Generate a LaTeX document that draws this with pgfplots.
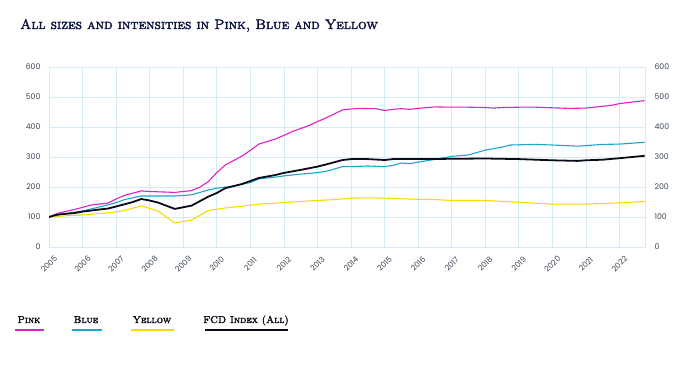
\documentclass[border=0pt]{standalone}
\usepackage{fontspec}
\setsansfont{Poppins}
\newfontface\scfont{lmromancaps10-regular.otf}[FakeBold=2.5]
\usepackage{pgfplots}
\pgfplotsset{compat=1.18}
\definecolor{gridc}{HTML}{D4ECF5}
\definecolor{tickc}{HTML}{3A4756}
\definecolor{pinkc}{HTML}{E020C0}
\definecolor{bluec}{HTML}{1AA7C9}
\definecolor{yellowc}{HTML}{F5DB00}
\definecolor{blackc}{HTML}{0A0A18}
\definecolor{titlec}{HTML}{0E1440}
\begin{document}
\begin{tikzpicture}
\useasboundingbox[fill=white] (0,0) rectangle (691bp,375bp);
\pgfplotsset{
  common/.style={
    at={(49bp,128bp)}, anchor=south west, scale only axis,
    width=596bp, height=180bp,
    xmin=2005, xmax=2022.76, ymin=0, ymax=600,
    ytick={0,100,...,600},
    /pgf/number format/1000 sep={},
    /pgf/number format/assume math mode=true,
    major tick length=0pt,
    tick label style={font=\sffamily\fontsize{7.8}{9}\selectfont, text=tickc},
  }
}
\begin{axis}[common,
  xtick={2005,...,2022},
  grid=major, grid style={gridc, line width=0.6pt},
  axis line style={gridc, line width=0.6pt},
  yticklabel style={xshift=-5bp},
  xticklabel style={yshift=-17bp, rotate=45, anchor=center},
]
\addplot[pinkc, line width=1.1pt] coordinates {
(2005,100)(2005.25,112)(2005.75,125)(2006,132)(2006.25,140)(2006.75,146)(2007,160)(2007.25,172)(2007.75,187)(2008,185)(2008.5,183)(2008.75,182)(2009,185)(2009.25,188)(2009.5,200)(2009.75,218)(2010,248)(2010.25,273)(2010.75,303)(2011,322)(2011.25,343)(2011.75,360)(2012,372)(2012.25,385)(2012.75,405)(2013,418)(2013.25,430)(2013.75,457)(2014,460)(2014.25,462)(2014.75,461)(2015,455)(2015.25,459)(2015.5,461)(2015.75,459)(2016,462)(2016.5,467)(2017,466)(2017.5,466)(2018,465)(2018.25,463)(2018.5,465)(2019,466)(2019.5,466)(2020,464)(2020.5,462)(2021,463)(2021.25,466)(2021.75,472)(2022,478)(2022.75,488)};
\addplot[bluec, line width=1.1pt] coordinates {
(2005,100)(2005.5,112)(2006,120)(2006.75,140)(2007,148)(2007.25,158)(2007.75,170)(2008,170)(2008.75,170)(2009.25,174)(2009.75,190)(2010,196)(2010.5,203)(2011,215)(2011.25,227)(2011.75,233)(2012,237)(2012.5,243)(2013,248)(2013.25,252)(2013.75,268)(2014,268)(2014.5,270)(2015,268)(2015.25,272)(2015.5,280)(2015.75,278)(2016,283)(2016.5,292)(2017,302)(2017.5,307)(2018,323)(2018.5,333)(2018.75,340)(2019.5,342)(2020,340)(2020.75,336)(2021,338)(2021.5,342)(2022,343)(2022.75,349)};
\addplot[yellowc, line width=1.1pt] coordinates {
(2005,100)(2005.5,104)(2006,107)(2006.75,114)(2007,117)(2007.25,122)(2007.75,137)(2008.25,120)(2008.75,80)(2009.25,90)(2009.75,122)(2010.25,130)(2010.75,136)(2011.25,143)(2012,148)(2012.5,152)(2013,155)(2013.5,158)(2014,163)(2014.5,164)(2015,163)(2015.5,161)(2016,159)(2016.5,158)(2017,155)(2018,155)(2019,149)(2019.5,146)(2020,143)(2021,143)(2021.5,145)(2022,147)(2022.75,152)};
\addplot[blackc, line width=1.8pt] coordinates {
(2005,100)(2005.25,108)(2005.75,113)(2006,118)(2006.5,125)(2006.75,128)(2007,135)(2007.5,150)(2007.75,160)(2008,155)(2008.25,148)(2008.75,127)(2009.25,138)(2009.75,168)(2010,180)(2010.25,196)(2010.75,210)(2011,220)(2011.25,230)(2011.75,240)(2012,247)(2012.5,257)(2013,268)(2013.25,275)(2013.75,290)(2014,293)(2014.5,293)(2015,290)(2015.25,293)(2016,293)(2017,294)(2018,295)(2019,293)(2019.5,291)(2020,289)(2020.75,287)(2021,289)(2021.5,291)(2022,296)(2022.75,304)};
\end{axis}
\begin{axis}[common,
  xtick=\empty,
  axis y line*=right, axis x line=none,
  axis line style={draw=none},
  yticklabel style={xshift=6bp},
]
\end{axis}
\node[anchor=base west, font=\scfont\fontsize{13.8}{15}\selectfont, text=titlec, inner sep=0pt] at (20bp,346bp) {All sizes and intensities in Pink, Blue and Yellow};
\begin{scope}[every node/.style={anchor=base, font=\scfont\fontsize{10}{11}\selectfont, text=blackc, inner sep=0pt}]
\node at (29bp,52bp) {Pink};
\node at (86bp,52bp) {Blue};
\node at (152bp,52bp) {Yellow};
\node at (246bp,52bp) {FCD Index (All)};
\draw[pinkc, line width=1.3pt] (15bp,45bp) -- (44bp,45bp);
\draw[bluec, line width=1.3pt] (72bp,45bp) -- (102bp,45bp);
\draw[yellowc, line width=1.3pt] (131bp,45bp) -- (174bp,45bp);
\draw[blackc, line width=1.5pt] (205bp,45bp) -- (288bp,45bp);
\end{scope}
\end{tikzpicture}
\end{document}
